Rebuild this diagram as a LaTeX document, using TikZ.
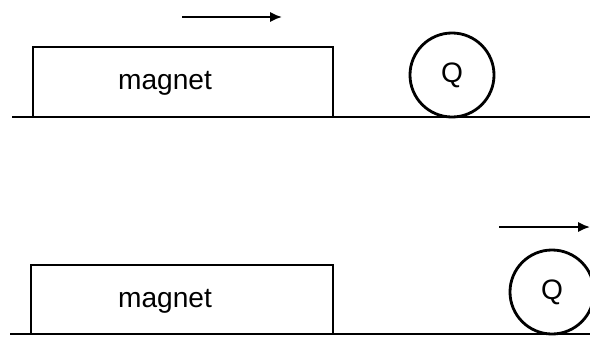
\documentclass[tikz,border=0pt]{standalone}
\usepackage{fontspec}
\setmainfont{Liberation Sans}
\usetikzlibrary{positioning, arrows.meta}

\begin{document}
\begin{tikzpicture}[x=0.025cm, y=-0.025cm, line width=1.6pt,
  font=\fontsize{20}{24}\selectfont,
  ball/.style={draw, circle, minimum size=2.1cm, inner sep=0pt, line width=2pt},
  motion/.style={-{Latex[length=0.3cm, width=0.26cm]}, line width=1.5pt}]
\useasboundingbox (0,0) rectangle (590,336); %picture size in px
% before
\draw (12,117) -- (590,117); %ground
\draw (33,47) rectangle (333,117);
\node (magnetA) at (165,83) {magnet};
\node[ball] (ballA) at (452,75) {Q};
\coordinate (pushA) at (182,17);
\coordinate (pushB) at (282,17);
\draw[motion] (pushA) -- (pushB);
% after
\draw (10,334) -- (590,334); %ground
\draw (31,265) rectangle (333,334);
\node (magnetB) at (165,301) {magnet};
\node[ball] (ballB) at (552,292) {Q};
\coordinate (kickA) at (499,227);
\coordinate (kickB) at (590,227);
\draw[motion] (kickA) -- (kickB);
\end{tikzpicture}
\end{document}
